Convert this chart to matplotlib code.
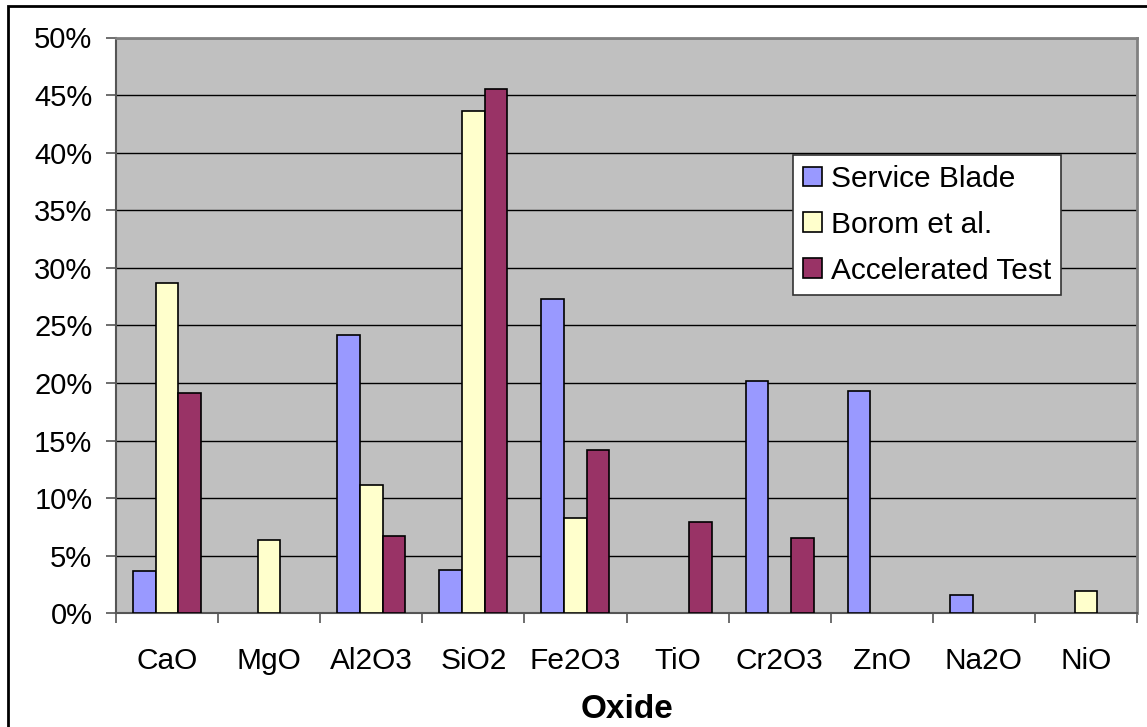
import matplotlib
matplotlib.use("Agg")
import matplotlib.pyplot as plt
import numpy as np
from matplotlib.patches import Rectangle
from matplotlib.ticker import FuncFormatter, MultipleLocator

categories = ["CaO", "MgO", "Al2O3", "SiO2", "Fe2O3", "TiO", "Cr2O3", "ZnO", "Na2O", "NiO"]
service_blade = [3.7, 0, 24.2, 3.8, 27.3, 0, 20.2, 19.3, 1.6, 0]
borom = [28.7, 6.4, 11.1, 43.6, 8.3, 0, 0, 0, 0, 1.9]
accelerated = [19.15, 0, 6.7, 45.5, 14.15, 7.9, 6.5, 0, 0, 0]
series_names = ["Service Blade", "Borom et al.", "Accelerated Test"]
series_colors = ["#9999FF", "#FFFFCC", "#993366"]

plt.rcParams['font.family'] = ['Liberation Sans', 'DejaVu Sans']

W, H = 1147, 727
fig = plt.figure(figsize=(W / 100, H / 100), dpi=100)
fig.patch.set_facecolor("white")

left, right, top, bottom = 116, 1137, 37.5, 613.3
ax = fig.add_axes([left / W, (H - bottom) / H, (right - left) / W, (bottom - top) / H])
ax.set_facecolor("#C0C0C0")

x = np.arange(len(categories))
bw = 2 / 9
for i, (vals, name, col) in enumerate(zip([service_blade, borom, accelerated], series_names, series_colors)):
    v = np.array(vals, dtype=float)
    mask = v > 0
    ax.bar(x[mask] + (i - 1) * bw, v[mask], width=bw, color=col, edgecolor="black",
           linewidth=1.2, label=name, zorder=3)

ax.set_xlim(-0.5, len(categories) - 0.5)
ax.set_ylim(0, 50)
ax.yaxis.set_major_locator(MultipleLocator(5))
ax.yaxis.set_major_formatter(FuncFormatter(lambda v, p: f"{v:.0f}%"))
ax.grid(axis="y", color="black", linewidth=1.0, zorder=1)
ax.set_axisbelow(True)

ax.set_xticks(x)
ax.set_xticklabels(categories)
ax.set_xticks(np.arange(-0.5, len(categories), 1.0), minor=True)
ax.tick_params(axis="x", which="major", length=0, pad=24, labelsize=21.5)
ax.tick_params(axis="x", which="minor", length=7, width=1.2, color="#555555", direction="out")
ax.tick_params(axis="y", length=7, width=1.2, color="#555555", direction="out", pad=10, labelsize=21)

for s in ["left", "bottom"]:
    ax.spines[s].set_color("#555555")
    ax.spines[s].set_linewidth(1.5)
for s in ["top", "right"]:
    ax.spines[s].set_color("#808080")
    ax.spines[s].set_linewidth(2)

ax.set_xlabel("Oxide", fontsize=24, fontweight="bold", labelpad=14)

leg = ax.legend(loc="upper left", bbox_to_anchor=(0.663, 0.796), fontsize=21.5,
                frameon=True, fancybox=False, shadow=False, borderaxespad=0,
                handlelength=0.63, handleheight=0.63, handletextpad=0.3,
                labelspacing=0.6, borderpad=0.33)
leg.get_frame().set_edgecolor("#333333")
leg.get_frame().set_linewidth(1.2)
leg.get_frame().set_facecolor("white")
leg.get_frame().set_alpha(1)

fig.patches.append(Rectangle((8 / W, -0.1), 1.2, 1 - 6 / H + 0.1, transform=fig.transFigure,
                             fill=False, edgecolor="black", linewidth=2, zorder=10))

fig.savefig("out.png", dpi=100)
